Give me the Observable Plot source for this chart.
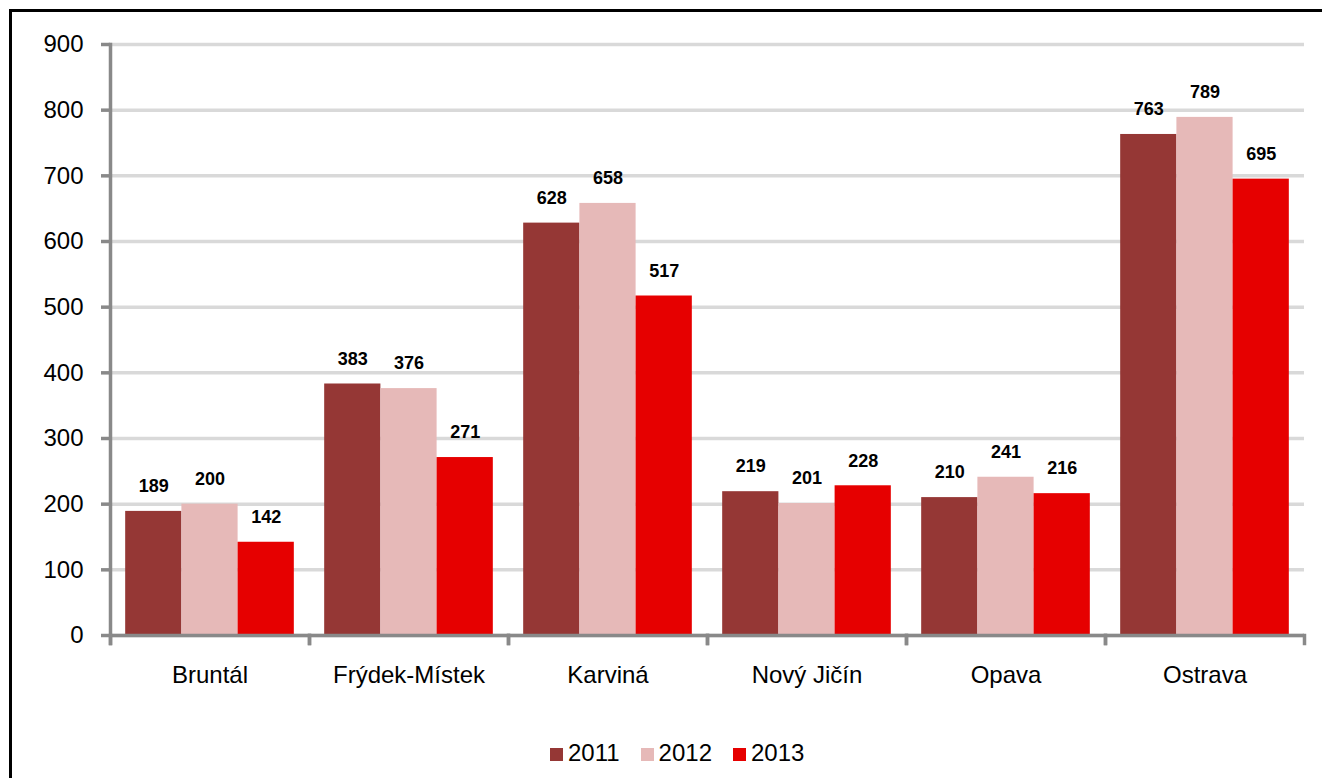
<!DOCTYPE html>
<html>
<head>
<meta charset="utf-8">
<script src="https://cdn.jsdelivr.net/npm/d3@7"></script>
<script src="https://cdn.jsdelivr.net/npm/@observablehq/plot@0.6"></script>
<style>
  html, body { margin: 0; padding: 0; background: #fff; }
  body { width: 1322px; height: 778px; position: relative; overflow: hidden; font-family: "Liberation Sans", Arial, sans-serif; }
  #frame { position: absolute; left: 9px; top: 9px; width: 1400px; height: 900px; border-left: 3px solid #000; border-top: 3px solid #000; box-sizing: border-box; }
  #chart { position: absolute; left: 0; top: 0; }
  #legend { position: absolute; left: 550px; top: 738px; display: flex; align-items: center; font-size: 24px; line-height: 30px; color: #000; }
  .item { display: flex; align-items: center; margin-right: 21px; }
  .sw { width: 13px; height: 13px; margin-right: 5px; margin-top: 2px; }
</style>
</head>
<body>
<div id="frame"></div>
<div id="chart"></div>
<div id="legend"></div>
<script>
const districts = ["Bruntál", "Frýdek-Místek", "Karviná", "Nový Jičín", "Opava", "Ostrava"];
const years = ["2011", "2012", "2013"];
const values2011 = [189, 383, 628, 219, 210, 763];
const values2012 = [200, 376, 658, 201, 241, 789];
const values2013 = [142, 271, 517, 228, 216, 695];
const yTicks = [0, 100, 200, 300, 400, 500, 600, 700, 800, 900];
const colors = ["#953735", "#E6B9B8", "#E60000"];

const series = [values2011, values2012, values2013];
const data = districts.flatMap((d, i) => years.map((y, j) => ({district: d, year: y, value: series[j][i]})));

const axisColor = "#898989";
const font = "'Liberation Sans', Arial, sans-serif";

const chart = Plot.plot({
  width: 1322,
  height: 700,
  marginLeft: 109,
  marginRight: 17,
  marginTop: 44,
  marginBottom: 65,
  style: {fontFamily: font, fontSize: "24px", color: "#000", background: "transparent", overflow: "visible"},
  fx: {domain: districts, padding: 0, label: null},
  x: {domain: years, paddingInner: 0, paddingOuter: 0.27, round: false, axis: null},
  y: {domain: [0, 900], label: null},
  color: {domain: years, range: colors},
  marks: [
    Plot.gridY(yTicks, {stroke: "#d9d9d9", strokeWidth: 3.5, strokeOpacity: 1}),
    Plot.barY(data, {fx: "district", x: "year", y: "value", fill: "year"}),
    Plot.text(data, {fx: "district", x: "year", y: "value", text: d => String(d.value), dy: -25, fontWeight: "bold", fontSize: 18, fill: "#000"}),
    Plot.ruleY([0], {stroke: axisColor, strokeWidth: 3.5}),
    Plot.frame({anchor: "left", facetAnchor: "left", insetBottom: -8, stroke: axisColor, strokeWidth: 3.5}),
    Plot.frame({anchor: "left", insetTop: 591, insetBottom: -8, stroke: axisColor, strokeWidth: 3.5}),
    Plot.frame({anchor: "right", insetTop: 591, insetBottom: -8, stroke: axisColor, strokeWidth: 3.5}),
    Plot.axisY(yTicks, {tickSize: 9, tickPadding: 18, stroke: axisColor, strokeWidth: 3.5, strokeOpacity: 1, fontSize: 24, label: null, fill: "#000"}),
    Plot.axisFx({anchor: "bottom", tickSize: 0, tickPadding: 30, fontSize: 24, label: null, fill: "#000"})
  ]
});
document.getElementById("chart").appendChild(chart);

const legend = document.getElementById("legend");
years.forEach((y, i) => {
  const item = document.createElement("div");
  item.className = "item";
  const sw = document.createElement("div");
  sw.className = "sw";
  sw.style.background = colors[i];
  const t = document.createElement("span");
  t.textContent = y;
  item.appendChild(sw);
  item.appendChild(t);
  legend.appendChild(item);
});
</script>
</body>
</html>
